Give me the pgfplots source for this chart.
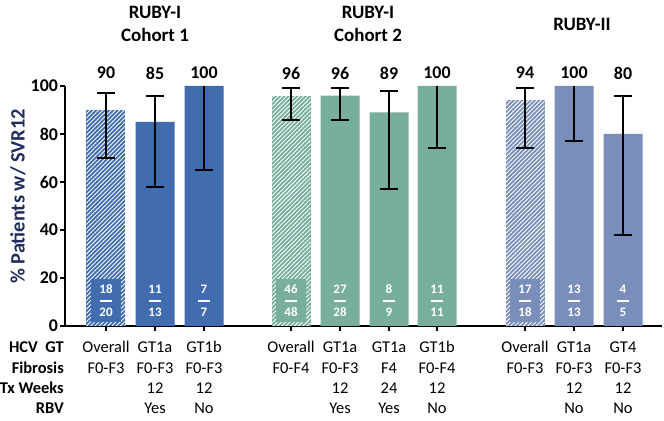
\documentclass[border=0pt]{standalone}
\usepackage{pgfplots}
\pgfplotsset{compat=1.18}
\usepackage{pgfplotstable}
\usepackage{fontspec}
\setmainfont{Carlito}
\usetikzlibrary{patterns.meta}

\definecolor{cA}{RGB}{65,109,174}
\definecolor{cB}{RGB}{119,174,156}
\definecolor{cC}{RGB}{122,142,187}
\definecolor{navy}{RGB}{31,45,92}

% error bars: value, plus, minus
\pgfplotstableread{
x   y   ep  em
106 90  7   20
155 85  11  27
291 96  3   10
340 96  3   10
389 89  9   32
525 94  5   20
623 80  16  42
}\errboth
\pgfplotstableread{
x   y   em
204 100 35
437 100 26
574 100 23
}\errminus

\newcommand{\frc}[2]{#1\\\rule[3bp]{12bp}{1.8bp}\\#2}
% column of the table under the bars
\newcommand{\col}[5]{%
  \node[cell] at (axis cs:#1,-9.6) {#2};
  \node[cell] at (axis cs:#1,-18.2) {#3};
  \node[cell] at (axis cs:#1,-26.6) {#4};
  \node[cell] at (axis cs:#1,-35.0) {#5};}

\begin{document}
\begin{tikzpicture}[
  cell/.style={font=\fontsize{16.5}{19}\selectfont, text height=11bp, text depth=3.5bp, inner sep=0pt},
  rowlab/.style={cell, font=\fontsize{16.5}{19}\selectfont\bfseries, anchor=east},
  frac/.style={text=white, font=\fontsize{13}{11.75}\selectfont\bfseries, align=center, inner sep=0pt},
  hatchbox/.style={frac, minimum width=30bp, minimum height=43bp},
  val/.style={font=\fontsize{18}{18}\selectfont\bfseries},
  ttl/.style={font=\fontsize{19}{23}\selectfont\bfseries, align=center},
]
\begin{axis}[
  scale only axis,
  width=597bp, height=240bp,
  xmin=65, xmax=662, ymin=0, ymax=100,
  axis lines*=left,
  axis line style={line width=2bp, black},
  tick style={line width=2bp, black},
  tick align=outside,
  major tick length=5bp,
  xtick={106,155,204,291,340,389,437,525,574,623},
  xticklabels={},
  ytick={0,20,40,60,80,100},
  /pgf/number format/assume math mode=true,
  yticklabel style={font=\fontsize{18}{18}\selectfont\bfseries, xshift=1.5bp},
  ybar, bar width=39, bar shift=0pt,
  clip=false,
]
% bars
\addplot[ybar, draw=none, preaction={fill=cA}, pattern={Lines[angle=45,distance=3bp,line width=0.9bp]}, pattern color=white]
  coordinates {(106,90)};
\addplot[ybar, draw=none, fill=cA] coordinates {(155,85) (204,100)};
\addplot[ybar, draw=none, preaction={fill=cB}, pattern={Lines[angle=45,distance=3bp,line width=0.9bp]}, pattern color=white]
  coordinates {(291,96)};
\addplot[ybar, draw=none, fill=cB] coordinates {(340,96) (389,89) (437,100)};
\addplot[ybar, draw=none, preaction={fill=cC}, pattern={Lines[angle=45,distance=3bp,line width=0.9bp]}, pattern color=white]
  coordinates {(525,94)};
\addplot[ybar, draw=none, fill=cC] coordinates {(574,100) (623,80)};

% error bars
\addplot[draw=none, mark=none, forget plot,
  error bars/.cd, y dir=both, y explicit,
  error bar style={draw=black, line width=2bp},
  error mark options={rotate=90, draw=black, line width=2bp, mark size=9bp}]
  table[x=x, y=y, y error plus=ep, y error minus=em] {\errboth};
\addplot[draw=none, mark=none, forget plot,
  error bars/.cd, y dir=minus, y explicit,
  error bar style={draw=black, line width=2bp},
  error mark options={rotate=90, draw=black, line width=2bp, mark size=9bp}]
  table[x=x, y=y, y error minus=em] {\errminus};

% fractions inside the bars
\node[hatchbox, fill=cA] at (axis cs:106,10.5) {\frc{18}{20}};
\node[frac] at (axis cs:155,10.5) {\frc{11}{13}};
\node[frac] at (axis cs:204,10.5) {\frc{7}{7}};
\node[hatchbox, fill=cB] at (axis cs:291,10.5) {\frc{46}{48}};
\node[frac] at (axis cs:340,10.5) {\frc{27}{28}};
\node[frac] at (axis cs:389,10.5) {\frc{8}{9}};
\node[frac] at (axis cs:437,10.5) {\frc{11}{11}};
\node[hatchbox, fill=cC] at (axis cs:525,10.5) {\frc{17}{18}};
\node[frac] at (axis cs:574,10.5) {\frc{13}{13}};
\node[frac] at (axis cs:623,10.5) {\frc{4}{5}};

% values above
\node[val] at (axis cs:106,105.4) {90};
\node[val] at (axis cs:155,105.4) {85};
\node[val] at (axis cs:204,105.4) {100};
\node[val] at (axis cs:291,105.4) {96};
\node[val] at (axis cs:340,105.4) {96};
\node[val] at (axis cs:389,105.4) {89};
\node[val] at (axis cs:437,105.4) {100};
\node[val] at (axis cs:525,105.4) {94};
\node[val] at (axis cs:574,105.4) {100};
\node[val] at (axis cs:623,105.4) {80};

% group titles
\node[ttl] at (axis cs:155,126) {RUBY-I\\Cohort 1};
\node[ttl] at (axis cs:368,126) {RUBY-I\\Cohort 2};
\node[ttl] at (axis cs:582,125.8) {RUBY-II};

% y label
\node[rotate=90, text=navy, font=\fontsize{20.5}{20.5}\selectfont\bfseries] at (axis cs:18,54) {\% Patients w/ SVR12};

% table under the axis
\node[rowlab] at (axis cs:64,-9.6) {HCV\ \ GT};
\node[rowlab] at (axis cs:64,-18.2) {Fibrosis};
\node[rowlab] at (axis cs:64,-26.6) {Tx Weeks};
\node[rowlab] at (axis cs:64,-35.0) {RBV};
\col{106}{Overall}{F0-F3}{}{}
\col{155}{GT1a}{F0-F3}{12}{Yes}
\col{204}{GT1b}{F0-F3}{12}{No}
\col{291}{Overall}{F0-F4}{}{}
\col{340}{GT1a}{F0-F3}{12}{Yes}
\col{389}{GT1a}{F4}{24}{Yes}
\col{437}{GT1b}{F0-F4}{12}{No}
\col{525}{Overall}{F0-F3}{}{}
\col{574}{GT1a}{F0-F3}{12}{No}
\col{623}{GT4}{F0-F3}{12}{No}

\coordinate (tl) at (axis cs:0,135.83);
\coordinate (br) at (axis cs:664,-39.58);
\end{axis}
\pgfresetboundingbox
\path (tl) rectangle (br);
\end{tikzpicture}
\end{document}
